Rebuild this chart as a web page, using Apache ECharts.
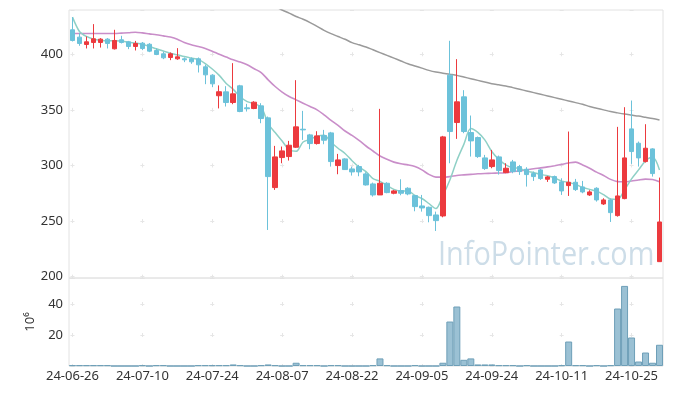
<!DOCTYPE html>
<html>
<head>
<meta charset="utf-8">
<script src="https://cdn.jsdelivr.net/npm/echarts@6/dist/echarts.min.js"></script>
<style>
html,body{margin:0;padding:0;background:#fff;}
#chart{width:673px;height:396px;}
</style>
</head>
<body>
<div id="chart"></div>
<script>
const dates = [
'24-06-26','24-06-27','24-06-28','24-07-01','24-07-02','24-07-03','24-07-04','24-07-05','24-07-08','24-07-09',
'24-07-10','24-07-11','24-07-12','24-07-15','24-07-16','24-07-17','24-07-18','24-07-19','24-07-22','24-07-23',
'24-07-24','24-07-25','24-07-26','24-07-29','24-07-30','24-07-31','24-08-01','24-08-02','24-08-05','24-08-06',
'24-08-07','24-08-08','24-08-09','24-08-12','24-08-13','24-08-14','24-08-16','24-08-19','24-08-20','24-08-21',
'24-08-22','24-08-23','24-08-26','24-08-27','24-08-28','24-08-29','24-08-30','24-09-02','24-09-03','24-09-04',
'24-09-05','24-09-06','24-09-09','24-09-10','24-09-11','24-09-12','24-09-13','24-09-19','24-09-20','24-09-23',
'24-09-24','24-09-25','24-09-26','24-09-27','24-09-30','24-10-02','24-10-04','24-10-07','24-10-08','24-10-10',
'24-10-11','24-10-14','24-10-15','24-10-16','24-10-17','24-10-18','24-10-21','24-10-22','24-10-23','24-10-24',
'24-10-25','24-10-28','24-10-29','24-10-30','24-10-31'];

const opens = [
422,415.4,408.8,410.6,410.6,413.6,404.9,413,411.2,407,
410,409,403.4,400.4,397.1,395.9,395.9,395.9,395.9,388.7,
381.2,362.7,366.2,356.6,371.6,351.8,351.2,353.6,342.8,280.1,
307.1,308,316.4,332.6,327.5,319.7,326.9,329.3,299.9,305.9,
296.9,299,292.4,283.4,273.5,284,275,277.4,279.5,272.9,
263.6,262.4,255.5,254.6,381.2,338.6,361.7,329.6,325.1,306.8,
299,307.7,293.6,303.2,299,296.6,292.7,296,287.6,290,
285.2,281.9,284.9,280.7,273.5,279.5,265.4,269,254.9,270.2,
332.9,320,303.5,314.9,213.5];

const closes = [
412.4,409.7,411.2,413.9,413.6,409.7,412.4,410.6,407,409.7,
405.2,402.8,399.8,396.8,400.4,397.7,395,393.2,390.5,381.5,
373.4,366.3,356.6,364.4,348.5,351,356.9,342.2,290,307.7,
313.1,318.2,334.7,332,319.7,326.6,322.7,303.5,305,296.3,
294.2,294.2,282.5,273.5,284,275.6,277.1,275,274.4,263,
261.8,254.9,250.4,325.7,330.5,357.2,330.5,322.1,308,297.2,
305,295.4,297.5,294.5,294.5,291.8,290,288.2,289.7,284.3,
277.1,284.9,278.3,276.2,276.2,269,269,257.6,272.6,306.8,
312.5,306.8,315.5,292.7,249.2];

const lows = [
411.5,407.6,405.2,405.2,406,405.2,404.3,409.7,404.6,403.4,
403.7,401.9,399.2,395.6,394.7,395,392.9,391.4,383.6,373.1,
370.4,351.3,353,355.1,347.9,348.5,350.6,338,242,278,
302,304.4,315.8,323,314.6,318.8,319.1,299,292.1,296,
290.9,290.3,281.9,272,273.5,275,274.1,273.2,273.2,258.8,
258.5,248.9,241.1,253.4,302,323.9,329,308,306.8,296,
297.5,291.8,293,293,291.5,281,286.1,287,285.2,283.4,
273.5,272.6,277.1,275,272.6,267.5,264.5,249.2,254,269.6,
301.4,299,302.6,290,213.5];

const highs = [
433.4,419,416,427.1,414.5,414.5,422,416.6,412,412,
411,410,405.2,402.2,401.6,405.5,397.1,397.1,397.1,390.5,
382.1,372,371.3,392,372.5,355.4,357.8,356,344,317.6,
317,322.1,376.7,349.1,328.4,330.8,332,330.2,310.4,306.5,
299,300.5,293.9,284.6,350.9,284.9,278,287.6,280.4,273.5,
273.5,263,258.5,326.6,412.1,395.6,367.7,344.9,326,309.5,
314,308.9,302,305,300.5,298.4,294.5,296.9,290.6,290.9,
288.5,330.5,287.9,286.1,277.7,280.4,270.5,270.2,334.7,352.4,
358.4,321.5,337.1,315.5,289.1];

// volume, in millions of shares
const volumes = [
0.5,0.5,0.5,0.5,0.5,0.5,0,0,0,0,
0.5,0,0.5,0.5,0,0,0,0,0.5,0.5,
0.5,0.5,0.5,1.0,0.5,0,0,0.5,1.0,0.5,
0,0,2.1,0.5,0.5,0.5,0,0.5,0.5,0,
0,0,0,0.5,4.9,0.5,0,0,0,0.5,
0,0,0,2.1,28.7,38.4,4.0,4.9,1.0,1.0,
1.0,0.5,0.5,0.5,0,0.5,0,0,0,0,
0.5,15.8,0.5,0.5,0,0.5,0,0.5,37.1,51.7,
18.4,2.9,8.7,2.1,13.7];

const ma5 = [
433.4,420.5,416,413.6,412.5,412,412.2,412,410.8,410,
409,407.1,404.9,402.9,401,399.5,397.9,396.6,395.4,391.6,
386.7,381,373.7,368.4,361.8,357.4,355.5,352.6,337.7,329.6,
322,314.2,312.7,321.1,323.5,326.2,327.1,320.9,315.5,310.8,
304.3,298.6,294.4,288.1,285.7,282,278.5,277,277.2,273,
270.3,265.8,261.2,273,287,304.5,319,333.2,329.7,323,
312.6,305.5,300.6,297.9,297.4,294.7,293.7,291.8,290.8,288.8,
285.9,284.8,282.9,280.2,278.5,276.9,273.7,269.8,269.5,278,
288,296,304,307.5,296];

const ma20 = [
418.7,418.7,418.7,418.7,418.7,418.7,418.7,419,419.3,419.8,
419.2,418.3,417.5,416.5,415.5,413.6,410.5,408.5,407,405.2,
402.8,400,397.5,395,393,390.5,387,383.5,377,371,
366,362,359,356,353,350,345.5,340.5,336,331,
327,322.5,317.5,313,308.5,305.5,303,301.5,300.5,299,
296,292,289.5,289.5,290,291,291.5,292,292.5,292.8,
293,293.2,293.5,294.5,295,296,297,297.8,298.7,299.8,
301,302.2,303,300.5,297.5,294,291,287.5,285.5,285.3,
286,287,287.7,287.4,285.3];

const maLong = [
null,null,null,null,null,null,null,null,null,null,
null,null,null,null,null,null,null,null,null,null,
null,null,null,null,null,null,null,null,446,443,
439.8,437,434,431.5,428.5,425,421.5,418.5,416,413.5,
410.5,408.5,406.5,404,401.5,399,396.5,394,391.5,389.5,
387.5,385.5,384,383,382,381,379.5,378,376.5,375,
373.5,372.5,371.5,370,368.5,367,365.5,364,362.5,361,
359.5,358,356.5,355,353,351.5,350,348.5,347.3,346.2,
345.3,344.4,343.3,342.2,340.8];

const priceTicks = [200, 250, 300, 350, 400];
const volumeTicks = [20, 40];
const labelEvery = 10;

const FONT = '"Noto Sans", "DejaVu Sans", sans-serif';
const UP = '#ec3a3e', DOWN = '#6cc2da';
const GRIDC = '#e6e6e6';
const DASH = 4;

const candleData = opens.map((o, i) => [o, closes[i], lows[i], highs[i]]);

const chart = echarts.init(document.getElementById('chart'), null, {renderer: 'canvas'});

const bandPx = 594 / dates.length;
const tickSpacingX = bandPx * labelEvery;
const priceMin = 198.8, priceMax = 439.8;
const pxPer50 = 268 / (priceMax - priceMin) * 50;
const volMax = 56.8;
const pxPer20 = 88 / volMax * 20;

function hDash(){ // horizontal split line: short dashes centred on category ticks
  return {show: true, lineStyle: {color: GRIDC, width: 1, type: [DASH, tickSpacingX - DASH], dashOffset: -(bandPx/2 - DASH/2)}};
}

const option = {
  animation: false,
  backgroundColor: '#fff',
  textStyle: {fontFamily: FONT},
  graphic: [{
    type: 'text', x: 438, y: 256, scaleX: 0.875, z: 0, silent: true,
    style: {text: 'InfoPointer.com', fill: '#cddde8', font: '33px "Open Sans", sans-serif', textVerticalAlign: 'middle'}
  }],
  grid: [
    {left: 69, right: 10, top: 10, height: 268, show: true, borderColor: '#e2e2e2', borderWidth: 1, backgroundColor: 'transparent', z: 1},
    {left: 69, right: 10, top: 278, height: 88, show: true, borderColor: '#e2e2e2', borderWidth: 1, backgroundColor: 'transparent', z: 1}
  ],
  xAxis: [
    {type: 'category', gridIndex: 0, data: dates, boundaryGap: true,
     axisLine: {show: false}, axisTick: {show: false}, axisLabel: {show: false},
     splitLine: {show: true, interval: labelEvery - 1, alignWithLabel: true,
       lineStyle: {color: GRIDC, width: 1, type: [DASH, pxPer50 - DASH], dashOffset: pxPer50 - (44.26 - DASH/2)}}},
    {type: 'category', gridIndex: 1, data: dates, boundaryGap: true,
     axisLine: {show: false}, axisTick: {show: false},
     axisLabel: {interval: labelEvery - 1, margin: 4, color: '#333', fontSize: 13, fontFamily: FONT},
     splitLine: {show: true, interval: labelEvery - 1, alignWithLabel: true,
       lineStyle: {color: GRIDC, width: 1, type: [DASH, pxPer20 - DASH], dashOffset: pxPer20 - (88 - 2 * pxPer20 - DASH/2)}}}
  ],
  yAxis: [
    {type: 'value', gridIndex: 0, min: priceMin, max: priceMax, splitNumber: 5,
     axisLine: {show: false}, axisTick: {show: false},
     axisLabel: {margin: 6, color: '#333', fontSize: 13, fontFamily: FONT, showMinLabel: false, showMaxLabel: false,
       formatter: v => priceTicks.includes(Math.round(v * 10) / 10) ? String(v) : ''},
     splitLine: hDash()},
    {type: 'value', gridIndex: 1, min: 0, max: volMax, interval: 20,
     name: '10\u2076', nameLocation: 'middle', nameRotate: 90, nameGap: 32,
     nameTextStyle: {color: '#333', fontSize: 13, fontFamily: FONT},
     axisLine: {show: false}, axisTick: {show: false},
     axisLabel: {margin: 6, color: '#333', fontSize: 13, fontFamily: FONT, showMinLabel: false, showMaxLabel: false,
       formatter: v => volumeTicks.includes(v) ? String(v) : ''},
     splitLine: hDash()}
  ],
  series: [
    {name: 'MA long', type: 'line', xAxisIndex: 0, yAxisIndex: 0, data: maLong, showSymbol: false, smooth: 0.3,
     lineStyle: {color: '#9a9a9a', width: 1.5}, z: 2, clip: true},
    {name: 'MA20', type: 'line', xAxisIndex: 0, yAxisIndex: 0, data: ma20, showSymbol: false, smooth: 0.3,
     lineStyle: {color: '#c98ec9', width: 1.6}, z: 2, clip: true},
    {name: 'MA5', type: 'line', xAxisIndex: 0, yAxisIndex: 0, data: ma5, showSymbol: false, smooth: 0.3,
     lineStyle: {color: '#8fd0c6', width: 1.5}, z: 2, clip: true},
    {name: 'price', type: 'candlestick', xAxisIndex: 0, yAxisIndex: 0, data: candleData, barWidth: 5, z: 3,
     itemStyle: {color: UP, color0: DOWN, borderColor: UP, borderColor0: DOWN, borderWidth: 1}},
    {name: 'volume', type: 'bar', xAxisIndex: 1, yAxisIndex: 1, data: volumes, barCategoryGap: '0%', z: 3,
     itemStyle: {color: 'rgba(122,172,198,0.75)', borderColor: '#6e9fb8', borderWidth: 1}}
  ]
};
chart.setOption(option);
</script>
</body>
</html>
